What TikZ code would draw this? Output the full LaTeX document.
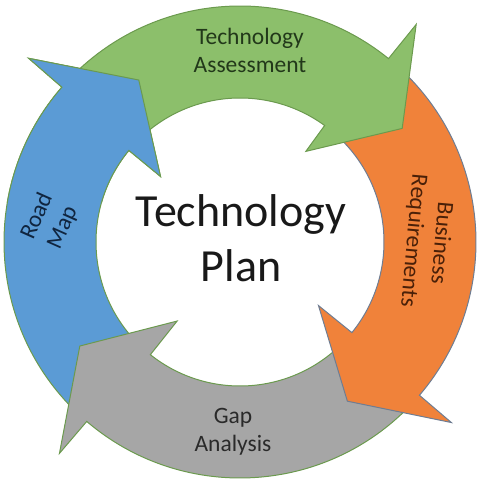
\documentclass[tikz,border=0pt]{standalone}
\usepackage{fontspec}
\setmainfont{Carlito}

\definecolor{assessgreen}{HTML}{8CBF6B}
\definecolor{businessorange}{HTML}{F0823A}
\definecolor{gapgray}{HTML}{A6A6A6}
\definecolor{mapblue}{HTML}{5B9BD5}
\definecolor{ringedge}{HTML}{6B9A4E}
\definecolor{orangeedge}{HTML}{6E7D93}
\definecolor{greentext}{HTML}{22381A}
\definecolor{orangetext}{HTML}{4A2008}
\definecolor{graytext}{HTML}{2A2A2A}
\definecolor{bluetext}{HTML}{10253F}

\begin{document}
\begin{tikzpicture}[x=1pt, y=1pt,
  arrowshape/.style={line width=1pt, line join=miter, draw=ringedge},
  arrowtext/.style={font=\fontsize{23.5}{28}\selectfont, align=center, inner sep=0pt}]

  % fix the page to the reference size, ring center at the origin
  \useasboundingbox (-240,-238) rectangle (243,242);

  % road map arrow (blue), tail under the gap head
  \draw[arrowshape, fill=mapblue] (225:236) arc[start angle=225, end angle=139, radius=236]
    -- (139:280) -- (122:191) -- (140.5:103) -- (140.5:144)
    arc[start angle=140.5, end angle=225, radius=144] -- cycle;
  % gap analysis arrow (gray)
  \draw[arrowshape, fill=gapgray] (-45:236) arc[start angle=-45, end angle=-130.5, radius=236]
    -- (-130.5:278) -- (-147:191) -- (-128.5:101) -- (-128.5:144)
    arc[start angle=-128.5, end angle=-45, radius=144] -- cycle;
  % business requirements arrow (orange)
  \draw[arrowshape, fill=businessorange, draw=orangeedge] (46:236) arc[start angle=46, end angle=-40.5, radius=236]
    -- (-40.5:278) -- (-56:192) -- (-39:101) -- (-39:144)
    arc[start angle=-39, end angle=46, radius=144] -- cycle;
  % technology assessment arrow (green)
  \draw[arrowshape, fill=assessgreen] (134:236) arc[start angle=134, end angle=51, radius=236]
    -- (51:280) -- (35:198) -- (54:112) -- (54:144)
    arc[start angle=54, end angle=134, radius=144] -- cycle;
  % blue head again, on top of the green tail
  \begin{scope}
    \clip (-245,40) rectangle (0,245);
    \draw[arrowshape, fill=mapblue] (225:236) arc[start angle=225, end angle=139, radius=236]
      -- (139:280) -- (122:191) -- (140.5:103) -- (140.5:144)
      arc[start angle=140.5, end angle=225, radius=144] -- cycle;
  \end{scope}

  % labels
  \node[arrowtext, text=greentext] (assess) at (10,192) {Technology\\Assessment};
  \node[arrowtext, text=orangetext, rotate=-95] (business) at (187,0) {Business\\Requirements};
  \node[arrowtext, text=graytext] (gap) at (-7,-190) {Gap\\Analysis};
  \node[arrowtext, text=bluetext, rotate=66] (roadmap) at (-190,20) {Road\\Map};

  \node[font=\fontsize{46}{55}\selectfont, align=center, text=black!90] (plan) at (1,4) {Technology\\Plan};
\end{tikzpicture}
\end{document}
